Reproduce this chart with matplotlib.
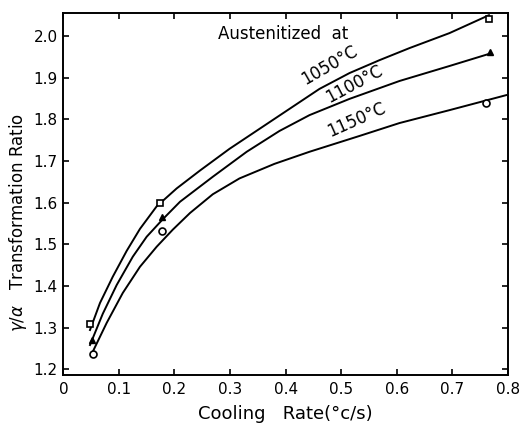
import matplotlib.pyplot as plt

# measured points (cooling rate, gamma/alpha ratio)
rate_1050 = [0.048, 0.174, 0.766]
ratio_1050 = [1.308, 1.600, 2.042]
rate_1100 = [0.051, 0.177, 0.768]
ratio_1100 = [1.270, 1.566, 1.962]
rate_1150 = [0.054, 0.177, 0.760]
ratio_1150 = [1.236, 1.532, 1.840]

# hand-drawn fitted curves
curve_x_1050 = [0.048, 0.066, 0.089, 0.114, 0.138, 0.168, 0.204, 0.246, 0.299,
                0.353, 0.407, 0.461, 0.515, 0.569, 0.623, 0.695, 0.766]
curve_y_1050 = [1.294, 1.359, 1.422, 1.484, 1.537, 1.591, 1.634, 1.677, 1.729,
                1.777, 1.825, 1.873, 1.911, 1.942, 1.971, 2.007, 2.050]
curve_x_1100 = [0.048, 0.071, 0.096, 0.125, 0.150, 0.179, 0.210, 0.269, 0.330,
                0.389, 0.443, 0.515, 0.605, 0.695, 0.766]
curve_y_1100 = [1.258, 1.333, 1.402, 1.470, 1.518, 1.560, 1.602, 1.662, 1.722,
                1.772, 1.810, 1.849, 1.892, 1.928, 1.957]
curve_x_1150 = [0.053, 0.078, 0.107, 0.138, 0.168, 0.197, 0.228, 0.269, 0.317,
                0.380, 0.443, 0.533, 0.605, 0.695, 0.797]
curve_y_1150 = [1.242, 1.311, 1.383, 1.446, 1.494, 1.535, 1.575, 1.620, 1.658,
                1.693, 1.722, 1.760, 1.791, 1.822, 1.858]

x_ticks = [0, 0.1, 0.2, 0.3, 0.4, 0.5, 0.6, 0.7, 0.8]
x_tick_labels = ['0', '0.1', '0.2', '0.3', '0.4', '0.5', '0.6', '0.7', '0.8']
y_ticks = [1.2, 1.3, 1.4, 1.5, 1.6, 1.7, 1.8, 1.9, 2.0]
y_tick_labels = ['1.2', '1.3', '1.4', '1.5', '1.6', '1.7', '1.8', '1.9', '2.0']

fig = plt.figure(figsize=(5.29, 4.23), dpi=100)
ax = fig.add_axes([0.1197, 0.1135, 0.8403, 0.8565])

# curves
ax.plot(curve_x_1050, curve_y_1050, color='black', lw=1.4)
ax.plot(curve_x_1100, curve_y_1100, color='black', lw=1.4)
ax.plot(curve_x_1150, curve_y_1150, color='black', lw=1.4)

# data markers
ax.plot(rate_1050, ratio_1050, 's', mfc='white', mec='black', ms=5, mew=1.2)
ax.plot(rate_1100, ratio_1100, '^', color='black', ms=5)
ax.plot(rate_1150, ratio_1150, 'o', mfc='white', mec='black', ms=5, mew=1.2)

# annotations
ax.text(0.395, 2.006, 'Austenitized  at', fontsize=12, ha='center', va='center')
ax.text(0.479, 1.930, '1050°C', fontsize=12, ha='center', va='center', rotation=30)
ax.text(0.523, 1.884, '1100°C', fontsize=12, ha='center', va='center', rotation=28)
ax.text(0.527, 1.798, '1150°C', fontsize=12, ha='center', va='center', rotation=24)

ax.set_xlim(0, 0.8)
ax.set_ylim(1.186, 2.056)
ax.set_xticks(x_ticks)
ax.set_xticklabels(x_tick_labels)
ax.set_yticks(y_ticks)
ax.set_yticklabels(y_tick_labels)
ax.tick_params(direction='in', top=True, right=True, length=4, width=1.2)
ax.tick_params(axis='x', labelsize=11, pad=5)
ax.tick_params(axis='y', labelsize=11, pad=4)
for s in ax.spines.values():
    s.set_linewidth(1.4)

ax.set_xlabel('Cooling   Rate(°c/s)', fontsize=13, va='top')
ax.xaxis.set_label_coords(0.5, -0.083)
ax.set_ylabel(r'$\gamma/\alpha$   Transformation Ratio', fontsize=12)
ax.yaxis.set_label_coords(-0.078, 0.42)

fig.savefig('out.png', dpi=100)
